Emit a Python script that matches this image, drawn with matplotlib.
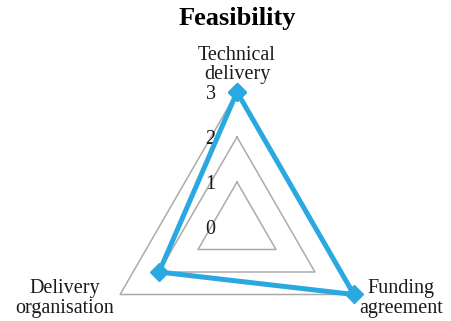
import numpy as np
import matplotlib
matplotlib.use("Agg")
import matplotlib.pyplot as plt

title = "Feasibility"
categories = ["Technical\ndelivery", "Funding\nagreement", "Delivery\norganisation"]
values = [3, 3, 2]
levels = [1, 2, 3]
tick_labels = ["0", "1", "2", "3"]

plt.rcParams['font.family'] = ['Liberation Serif', 'DejaVu Serif']

W, H = 451, 321
fig = plt.figure(figsize=(W / 100, H / 100), dpi=100)

cx, cy, R = 237, 227, 135  # pixel layout of the radar
ax = fig.add_axes([(cx - R) / W, (H - cy - R) / H, 2 * R / W, 2 * R / H], projection='polar')
ax.set_theta_offset(np.pi / 2)
ax.set_theta_direction(-1)
ax.set_ylim(0, 3)
ax.axis('off')

n = len(categories)
angles = np.linspace(0, 2 * np.pi, n, endpoint=False)
closed = np.concatenate([angles, angles[:1]])

grid_color = "#ABABAB"
for lv in levels:
    ax.plot(closed, [lv] * (n + 1), color=grid_color, lw=1.1, clip_on=False, zorder=1)

vals = values + values[:1]
ax.plot(closed, vals, color="#29A9E0", lw=3.6, marker='D', ms=9, mec="#29A9E0",
        clip_on=False, zorder=3, solid_joinstyle='miter')

# radial tick labels
for i, t in enumerate(tick_labels):
    ax.annotate(t, xy=(0, i), xytext=(-19, -1.5), textcoords='offset points',
                ha='center', va='center', fontsize=14.5, color='#1a1a1a',
                annotation_clip=False, zorder=2)

# category labels
offsets = [((0, 5.5), 'center', 'bottom'), ((34, -3), 'center', 'center'), ((-40, -3), 'center', 'center')]
for ang, lab, (off, ha, va) in zip(angles, categories, offsets):
    ax.annotate(lab, xy=(ang, 3), xytext=off, textcoords='offset points',
                ha=ha, va=va, fontsize=14.5, linespacing=1.05, color='#1a1a1a',
                annotation_clip=False, multialignment='center')

fig.text(cx / W, 1 - 18 / H, title, ha='center', va='center', fontsize=19, fontweight='bold')

fig.savefig("out.png", dpi=100)
